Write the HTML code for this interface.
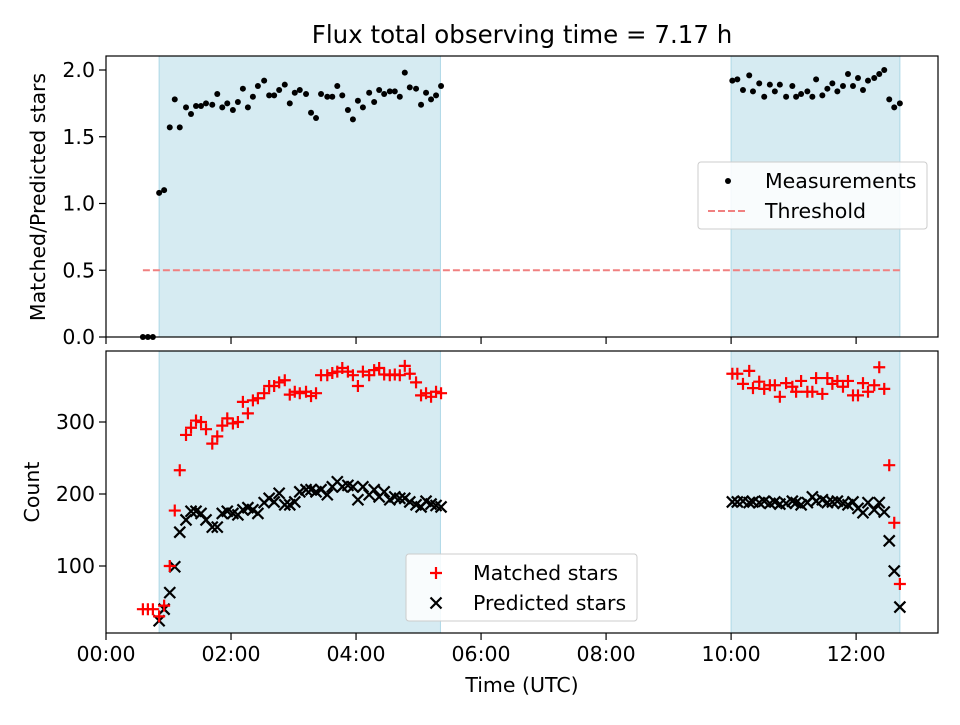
<!DOCTYPE html>
<html><head><meta charset="utf-8"><style>
body{margin:0;background:#fff;font-family:"Liberation Sans","DejaVu Sans",sans-serif}
svg text{font-family:"DejaVu Sans","Liberation Sans",sans-serif;fill:#000}
</style></head><body>
<svg id="c" width="960" height="720" viewBox="0 0 960 720" xmlns="http://www.w3.org/2000/svg"></svg>
<script>
const times1=[0.59,0.67,0.75,0.85,0.93,1.02,1.10,1.18,1.28,1.36,1.44,1.52,1.60,1.70,1.78,1.86,1.94,2.03,2.11,2.19,2.27,2.35,2.43,2.53,2.61,2.69,2.77,2.86,2.94,3.02,3.10,3.20,3.28,3.36,3.44,3.54,3.62,3.70,3.78,3.87,3.95,4.03,4.11,4.21,4.29,4.37,4.45,4.54,4.62,4.70,4.78,4.86,4.96,5.04,5.12,5.20,5.28,5.36];
const times2=[10.02,10.10,10.19,10.29,10.35,10.45,10.53,10.62,10.70,10.78,10.88,10.98,11.04,11.12,11.22,11.30,11.36,11.46,11.54,11.62,11.70,11.79,11.87,11.95,12.03,12.11,12.19,12.29,12.37,12.45,12.53,12.61,12.70];
const ratio1=[0,0,0,1.08,1.10,1.57,1.78,1.57,1.72,1.67,1.73,1.73,1.75,1.74,1.82,1.72,1.75,1.70,1.76,1.86,1.72,1.80,1.88,1.92,1.81,1.81,1.85,1.89,1.75,1.83,1.85,1.82,1.68,1.64,1.82,1.80,1.80,1.88,1.81,1.70,1.63,1.77,1.72,1.83,1.76,1.85,1.82,1.84,1.84,1.80,1.98,1.87,1.86,1.74,1.83,1.78,1.81,1.88];
const ratio2=[1.92,1.93,1.85,1.96,1.84,1.90,1.80,1.89,1.84,1.89,1.80,1.88,1.80,1.82,1.84,1.80,1.93,1.81,1.86,1.90,1.84,1.88,1.97,1.88,1.94,1.85,1.92,1.94,1.97,2.00,1.78,1.72,1.75];
const matched1=[40,40,40,30,45,100,177,233,282,292,302,300,290,270,280,295,305,298,300,328,312,330,333,340,350,350,355,358,338,342,340,342,336,340,365,365,368,370,375,370,365,350,370,365,372,375,366,365,366,365,378,367,355,337,340,335,342,340];
const matched2=[367,367,353,371,347,356,346,351,351,335,354,349,342,357,342,342,361,339,361,353,357,349,357,337,337,354,342,351,376,346,240,160,75];
const predicted1=[null,null,null,24,40,63,99,147,164,176,176,173,164,154,154,173,176,173,171,178,181,178,173,188,194,189,201,185,185,189,203,206,206,203,206,199,210,217,210,212,210,192,210,199,206,196,203,192,196,194,194,189,185,182,190,186,184,182];
const predicted2=[189,189,190,188,189,188,190,187,189,186,187,190,188,185,188,196,190,192,188,189,190,187,185,189,180,174,188,178,188,175,135,93,43];
const xTicks=[0,2,4,6,8,10,12];
const xTickLabels=["00:00","02:00","04:00","06:00","08:00","10:00","12:00"];
const topTicks=[0,0.5,1.0,1.5,2.0];
const topTickLabels=["0.0","0.5","1.0","1.5","2.0"];
const botTicks=[100,200,300];
const spans=[[0.85,5.35],[10.0,12.7]];
const threshold=0.5, thrStart=0.59, thrEnd=12.7;

const L=106,R=938,T1=56,B1=337,T2=351,B2=633;
const X=t=>L+(t-0)*(R-L)/13.31;
const Y1=v=>B1-v*133.5;
const Y2=v=>566-(v-100)*0.72;
const svg=document.getElementById('c');
const NS='http://www.w3.org/2000/svg';
function mk(tag,attrs,parent){const e=document.createElementNS(NS,tag);for(const k in attrs)e.setAttribute(k,attrs[k]);(parent||svg).appendChild(e);return e;}
const FS=20.5;

for(const [panelT,panelB] of [[T1,B1],[T2,B2]]){
  spans.forEach(s=>{const r=mk('rect',{x:X(s[0]),y:panelT,width:X(s[1])-X(s[0]),height:panelB-panelT,fill:'#add8e6','fill-opacity':0.5,stroke:'#add8e6'});
  
  });
}
const th=mk('line',{x1:X(thrStart),x2:X(thrEnd),y1:Y1(threshold),y2:Y1(threshold),stroke:'#f08080','stroke-width':2,'stroke-dasharray':'7,3'});


const tAll=times1.concat(times2);
ratio1.concat(ratio2).forEach((v,i)=>{const c=mk('circle',{cx:X(tAll[i]),cy:Y1(v),r:3,fill:'#000'});

});
predicted1.concat(predicted2).forEach((v,i)=>{if(v==null)return;const x=X(tAll[i]),y=Y2(v),d=5.5;
const p=mk('path',{d:`M${x-d},${y-d}L${x+d},${y+d}M${x-d},${y+d}L${x+d},${y-d}`,stroke:'#000','stroke-width':2.2});

});
matched1.concat(matched2).forEach((v,i)=>{const x=X(tAll[i]),y=Y2(v),d=6;
const p=mk('path',{d:`M${x-d},${y}L${x+d},${y}M${x},${y-d}L${x},${y+d}`,stroke:'#ff0000','stroke-width':2.2});

});
[[T1,B1],[T2,B2]].forEach(([t,b])=>{const r=mk('rect',{x:L,y:t,width:R-L,height:b-t,fill:'none',stroke:'#000','stroke-width':1.2});

});
xTicks.forEach((t,i)=>{const x=X(t);
mk('line',{x1:x,x2:x,y1:B1,y2:B1+7,stroke:'#000','stroke-width':1.2});mk('line',{x1:x,x2:x,y1:B2,y2:B2+7,stroke:'#000','stroke-width':1.2});
const tx=mk('text',{x:x,y:B2+28,'text-anchor':'middle','font-size':FS});tx.textContent=xTickLabels[i];

});
topTicks.forEach((v,i)=>{const y=Y1(v);mk('line',{x1:L-7,x2:L,y1:y,y2:y,stroke:'#000','stroke-width':1.2});
const tx=mk('text',{x:L-11,y:y+7,'text-anchor':'end','font-size':FS});tx.textContent=topTickLabels[i];

});
botTicks.forEach(v=>{const y=Y2(v);mk('line',{x1:L-7,x2:L,y1:y,y2:y,stroke:'#000','stroke-width':1.2});
const tx=mk('text',{x:L-11,y:y+7,'text-anchor':'end','font-size':FS});tx.textContent=String(v);

});
</script>
<script>
(function(){const svg=document.getElementById('c');const NS='http://www.w3.org/2000/svg';
function mk(tag,attrs,txt){const e=document.createElementNS(NS,tag);for(const k in attrs)e.setAttribute(k,attrs[k]);if(txt)e.textContent=txt;svg.appendChild(e);return e;}
const FS=20.5;let e;
e=mk('text',{x:522,y:43,'text-anchor':'middle','font-size':24.5},'Flux total observing time = 7.17 h');


e=mk('text',{x:522,y:692,'text-anchor':'middle','font-size':FS},'Time (UTC)');


e=mk('text',{x:45,y:197,'text-anchor':'middle','font-size':FS,transform:'rotate(-90 45 197)'},'Matched/Predicted stars');


e=mk('text',{x:39,y:492,'text-anchor':'middle','font-size':FS,transform:'rotate(-90 39 492)'},'Count');


e=mk('rect',{x:698,y:162,width:229,height:67,rx:3,fill:'#fff','fill-opacity':0.85,stroke:'#ccc'});


mk('circle',{cx:728,cy:181,r:3,fill:'#000'});
e=mk('text',{x:765,y:188,'font-size':FS},'Measurements');


mk('line',{x1:708,x2:748,y1:211,y2:211,stroke:'#f08080','stroke-width':2,'stroke-dasharray':'7,3'});
e=mk('text',{x:765,y:218,'font-size':FS},'Threshold');


e=mk('rect',{x:406,y:554,width:231,height:67,rx:3,fill:'#fff','fill-opacity':0.85,stroke:'#ccc'});


mk('path',{d:'M430,573L442,573M436,567L436,579',stroke:'#f00','stroke-width':2.2});
e=mk('text',{x:473,y:580,'font-size':FS},'Matched stars');


mk('path',{d:'M430.5,597.5L441.5,608.5M430.5,608.5L441.5,597.5',stroke:'#000','stroke-width':2.2});
e=mk('text',{x:473,y:610,'font-size':FS},'Predicted stars');


})();
</script>
</body></html>
